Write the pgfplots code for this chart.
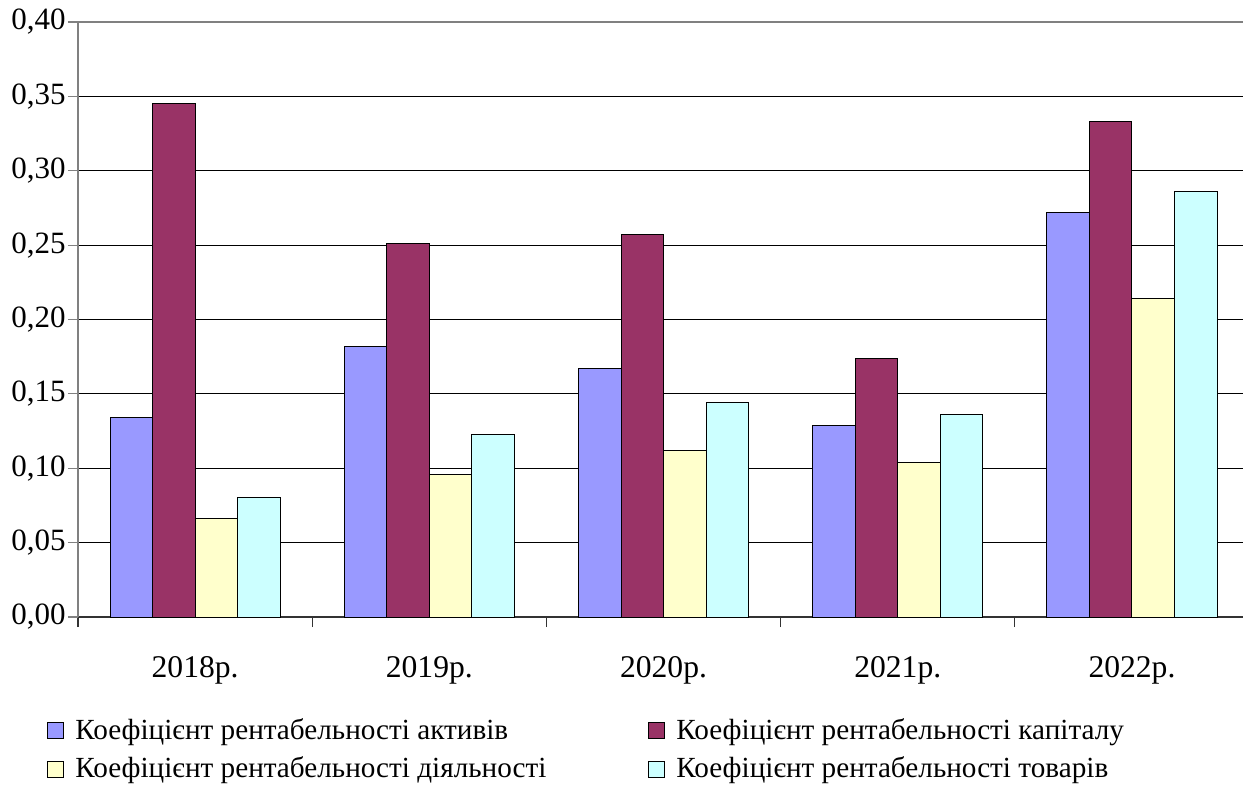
\documentclass[border=0pt]{standalone}
\usepackage{fontspec}
\setmainfont{Liberation Serif}
\usepackage{pgfplots}
\pgfplotsset{compat=1.18}
\definecolor{cA}{HTML}{9999FF}
\definecolor{cB}{HTML}{993366}
\definecolor{cC}{HTML}{FFFFCC}
\definecolor{cD}{HTML}{CCFFFF}
\pgfplotsset{mylegend/.style={legend image code/.code={\draw[##1,draw=black,line width=0.5pt] (0pt,-4pt) rectangle (8pt,4pt);}}}
\begin{document}
\begin{tikzpicture}
\begin{axis}[
  at={(0,0)}, anchor=south west,
  width=582.5pt, height=297.5pt, scale only axis,
  ybar=0pt, bar width=0.1815,
  xmin=-0.5, xmax=4.474, ymin=0, ymax=0.4,
  axis x line*=bottom, axis y line*=left,
  x axis line style={draw=black!80, line width=0.6pt},
  y axis line style={draw=gray, line width=0.6pt},
  xtick={0,...,4},
  xticklabels={2018р.,2019р.,2020р.,2021р.,2022р.},
  minor xtick={-0.5,0.5,1.5,2.5,3.5},
  ytick={0,0.05,...,0.351},
  extra y ticks={0.4},
  extra y tick style={grid style={draw=gray, line width=1pt}},
  ymajorgrids,
  grid style={draw=black, line width=0.6pt},
  tick align=outside,
  major tick length=5pt, minor tick length=5pt,
  major x tick style={draw=none},
  minor x tick style={draw=black!80, line width=0.6pt},
  y tick style={draw=gray, line width=0.6pt},
  yticklabel style={font=\fontsize{15.5pt}{18pt}\selectfont, inner sep=1pt},
  xticklabel style={font=\fontsize{15.8pt}{18pt}\selectfont, yshift=-11pt},
  /pgf/number format/.cd, fixed, fixed zerofill, precision=2, use comma, assume math mode=true,
  /pgfplots/.cd,
  legend columns=2,
  legend cell align=left,
  legend style={draw=none, fill=none, at={(-0.0266,-0.166)}, anchor=north west,
    inner sep=0pt, row sep=5.5pt,
    font=\fontsize{14.6pt}{16pt}\selectfont,
    nodes={inner sep=1pt},
    /tikz/every odd column/.append style={column sep=4.5pt},
    /tikz/every even column/.append style={column sep=50pt}},
]
\addplot[fill=cA, draw=black, line width=0.5pt, mylegend] coordinates {(0,0.134) (1,0.182) (2,0.167) (3,0.129) (4,0.272)};
\addplot[fill=cB, draw=black, line width=0.5pt, mylegend] coordinates {(0,0.345) (1,0.251) (2,0.257) (3,0.174) (4,0.333)};
\addplot[fill=cC, draw=black, line width=0.5pt, mylegend] coordinates {(0,0.0665) (1,0.096) (2,0.112) (3,0.104) (4,0.214)};
\addplot[fill=cD, draw=black, line width=0.5pt, mylegend] coordinates {(0,0.0805) (1,0.123) (2,0.144) (3,0.136) (4,0.286)};
\legend{Коефіцієнт рентабельності активів, Коефіцієнт рентабельності капіталу, Коефіцієнт рентабельності діяльності, Коефіцієнт рентабельності товарів}
\end{axis}
\pgfresetboundingbox
\path (-39pt,-86pt) rectangle (582.5pt,308.5pt);
\end{tikzpicture}
\end{document}
